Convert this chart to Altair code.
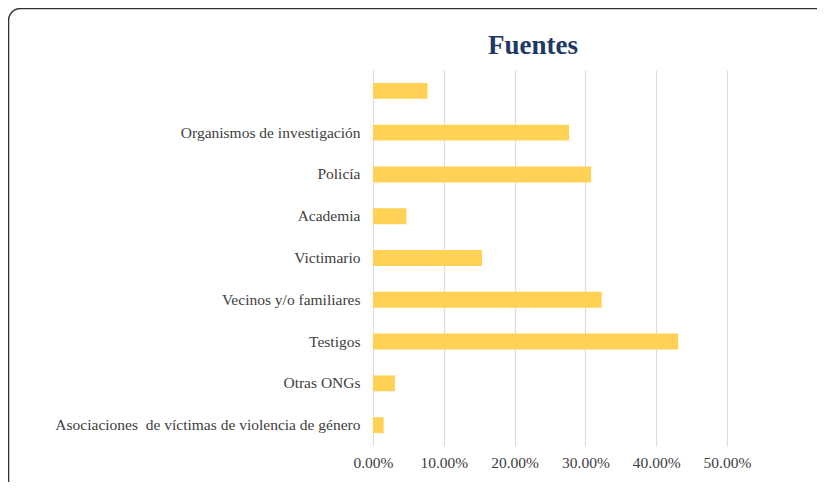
import altair as alt
import pandas as pd

categories = [
    " ",
    "Organismos de investigación\u00a0",
    "Policía",
    "Academia",
    "Victimario",
    "Vecinos y/o familiares",
    "Testigos",
    "Otras ONGs",
    "Asociaciones\u00a0 de víctimas de violencia de género",
]
values = [0.077, 0.277, 0.308, 0.047, 0.154, 0.323, 0.431, 0.031, 0.015]
x_ticks = [0.0, 0.1, 0.2, 0.3, 0.4, 0.5]
title_text = ["Fuentes"]

df = pd.DataFrame({"cat": categories, "val": values})
df_title = pd.DataFrame({"t": title_text})

FONT = "'Times New Roman', 'Liberation Serif', serif"

bars = alt.Chart(df).mark_bar(color="#FFD154").encode(
    x=alt.X(
        "val:Q",
        scale=alt.Scale(domain=[0, 0.5], nice=False),
        axis=alt.Axis(
            values=x_ticks,
            format=".2%",
            title=None,
            domain=False,
            ticks=False,
            tickSize=0,
            grid=True,
            gridColor="#D9DDE6",
            gridWidth=1.2,
            labelFont=FONT,
            labelFontSize=15.5,
            labelColor="#404040",
            labelPadding=9,
            labelOverlap=False,
            labelFlush=False,
        ),
    ),
    y=alt.Y(
        "cat:N",
        sort=categories,
        scale=alt.Scale(paddingInner=0.62, paddingOuter=0.31),
        axis=alt.Axis(
            title=None,
            domain=False,
            ticks=False,
            tickSize=0,
            labelFont=FONT,
            labelFontSize=15.5,
            labelColor="#404040",
            labelPadding=13,
            labelLimit=400,
        ),
    ),
)

frame = alt.Chart(df_title).mark_rect(
    fill=None, stroke="#333333", strokeWidth=1.6, cornerRadius=12, clip=False
).encode(
    x=alt.value(-364.5),
    x2=alt.value(470),
    y=alt.value(-61.5),
    y2=alt.value(460),
)

title = alt.Chart(df_title).mark_text(
    font=FONT,
    fontSize=27,
    fontWeight="bold",
    color="#1F3864",
    align="center",
    baseline="middle",
).encode(
    text="t:N",
    x=alt.value(160),
    y=alt.value(-24),
)

chart = (
    alt.layer(frame, bars, title)
    .properties(
        width=354,
        height=376,
        autosize=alt.AutoSizeParams(type="none"),
        padding={"left": 365, "top": 62, "right": 90, "bottom": 36},
    )
    .configure_view(stroke=None)
)

chart.save("out.html", embed_options={"renderer": "svg", "actions": False})
